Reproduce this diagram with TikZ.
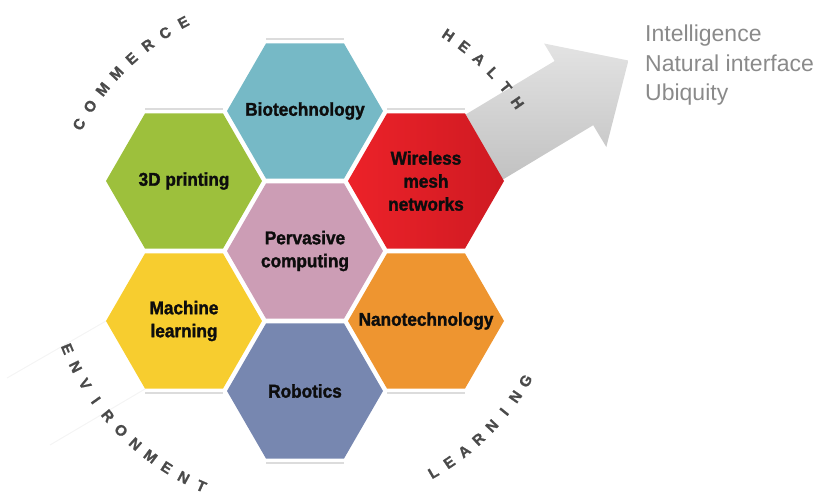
\documentclass[tikz,border=0pt]{standalone}
\usepackage{fontspec}
\setmainfont{Liberation Sans}
\newfontfamily\hexfont[FakeStretch=0.93,FakeBold=1.6]{Liberation Sans Bold}
\newfontfamily\catfont[FakeBold=1.2]{Liberation Sans Bold}
\usetikzlibrary{shapes.geometric}
\definecolor{biocol}{HTML}{76B9C6}
\definecolor{tdpcol}{HTML}{9DC03C}
\definecolor{wmnA}{HTML}{EC2229}
\definecolor{wmnB}{HTML}{CF1A22}
\definecolor{pvccol}{HTML}{CC9DB5}
\definecolor{mlrcol}{HTML}{F7CD2F}
\definecolor{nancol}{HTML}{EE9530}
\definecolor{robcol}{HTML}{7787B0}
\definecolor{catcol}{HTML}{4A4A4A}
\definecolor{topcol}{HTML}{8A8A8A}
\definecolor{faintcol}{HTML}{DCDCDC}
\begin{document}
\begin{tikzpicture}[x=1pt,y=-1pt,
  hexa/.style={regular polygon, regular polygon sides=6, minimum size=156pt, inner sep=0pt, outer sep=0pt, draw=none},
  hlbl/.style={font=\fontsize{18.5}{23}\selectfont\hexfont, text=black!95, align=center, inner sep=0pt},
  cat/.style={font=\fontsize{15}{15}\selectfont\catfont, text=catcol, inner sep=0pt},
  faint/.style={draw=faintcol, line width=1.6pt},
  ray/.style={draw=gray!9, line width=1pt},
  toptxt/.style={font=\fontsize{23}{23}\selectfont, text=topcol, inner sep=0pt, anchor=base west}]
\useasboundingbox (0,0) rectangle (816,495);

% faint lines outside top / bottom edges
\foreach \cx/\cy in {184/181,305/111,426/181}
  \draw[faint] (\cx-39,\cy-72) -- (\cx+39,\cy-72);
\foreach \cx/\cy in {184/321,305/391,426/321}
  \draw[faint] (\cx-39,\cy+72) -- (\cx+39,\cy+72);

% faint rays at lower left
\coordinate (r1a) at (106,321); \coordinate (r1b) at (7,378);
\coordinate (r2a) at (145,389); \coordinate (r2b) at (50,445);
\draw[ray] (r1a) -- (r1b);
\draw[ray] (r2a) -- (r2b);

% arrow
\path[top color=gray!22, bottom color=gray!52]
  (431.2,135.2) -- (554.6,61.0) -- (544.1,43.5) -- (628.4,60.5)
  -- (606.3,147.0) -- (593.2,125.2) -- (469.8,199.4) -- cycle;

% hexagons
\node[hexa, fill=biocol] (bio) at (305,111) {};
\node[hexa, fill=tdpcol] (tdp) at (184,181) {};
\node[hexa, left color=wmnA, right color=wmnB] (wmn) at (426,181) {};
\node[hexa, fill=pvccol] (pvc) at (305,251) {};
\node[hexa, fill=mlrcol] (mlr) at (184,321) {};
\node[hexa, fill=nancol] (nan) at (426,321) {};
\node[hexa, fill=robcol] (rob) at (305,391) {};

\node[hlbl] (biot) at (bio) {Biotechnology};
\node[hlbl] (tdpt) at (tdp) {3D printing};
\node[hlbl] (wmnt) at (wmn) {Wireless\\mesh\\networks};
\node[hlbl] (pvct) at (pvc) {Pervasive\\computing};
\node[hlbl] (mlrt) at (mlr) {Machine\\learning};
\node[hlbl] (nant) at (nan) {Nanotechnology};
\node[hlbl] (robt) at (rob) {Robotics};

% curved category labels
\foreach \ch [count=\i from 0] in {C,O,M,M,E,R,C,E}{
  \pgfmathsetmacro{\a}{150.7-\i*4.67}
  \node[cat, rotate=\a-90] (com\i) at ({305+259*cos(\a)},{251-259*sin(\a)}) {\ch};}
\foreach \ch [count=\i from 0] in {H,E,A,L,T,H}{
  \pgfmathsetmacro{\a}{56.4-\i*4.3}
  \node[cat, rotate=\a-90] (hea\i) at ({305+259*cos(\a)},{251-259*sin(\a)}) {\ch};}
\foreach \ch [count=\i from 0] in {E,N,V,I,R,O,N,M,E,N,T}{
  \pgfmathsetmacro{\a}{202.4+\i*4.38}
  \node[cat, rotate=\a+90] (env\i) at ({305+257*cos(\a)},{251-257*sin(\a)}) {\ch};}
\foreach \ch [count=\i from 0] in {L,E,A,R,N,I,N,G}{
  \pgfmathsetmacro{\a}{300.1+\i*4.2}
  \node[cat, rotate=\a+90] (lea\i) at ({305+256*cos(\a)},{251-256*sin(\a)}) {\ch};}

% top-right text
\node[toptxt] (t1) at (645,42) {Intelligence};
\node[toptxt] (t2) at (645,71) {Natural interface};
\node[toptxt] (t3) at (645,100) {Ubiquity};
\end{tikzpicture}
\end{document}
